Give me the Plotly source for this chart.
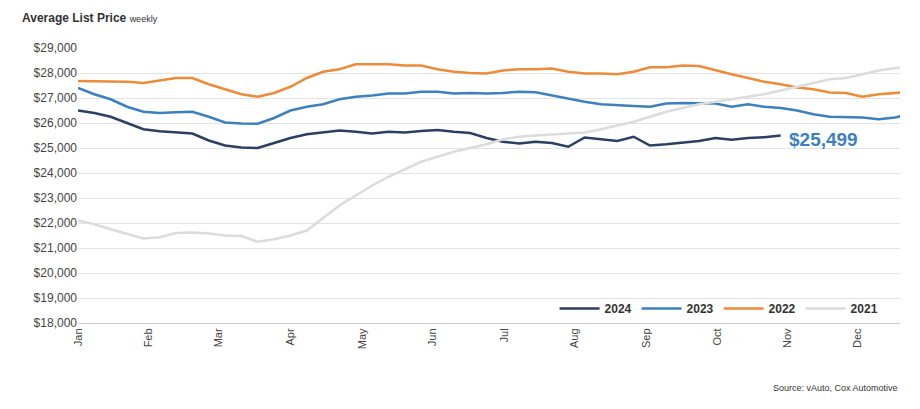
import plotly.graph_objects as go

months = ["Jan", "Feb", "Mar", "Apr", "May", "Jun", "Jul", "Aug", "Sep", "Oct", "Nov", "Dec"]
month_weeks = [0, 4.3, 8.6, 13.0, 17.4, 21.7, 26.1, 30.4, 34.8, 39.1, 43.4, 47.7]

p2024 = [26500, 26400, 26250, 26000, 25750, 25670, 25630, 25580, 25300, 25100, 25020, 25000,
         25200, 25400, 25550, 25620, 25700, 25650, 25580, 25650, 25620, 25680, 25720, 25650,
         25600, 25400, 25250, 25180, 25250, 25200, 25050, 25420, 25350, 25280, 25450, 25100,
         25150, 25200, 25280, 25400, 25330, 25400, 25430, 25499]
p2023 = [27400, 27150, 26950, 26650, 26450, 26400, 26430, 26450, 26250, 26020, 25980, 25970,
         26200, 26500, 26650, 26750, 26950, 27050, 27100, 27180, 27180, 27250, 27250, 27180,
         27200, 27180, 27200, 27250, 27230, 27100, 27000, 26850, 26750, 26700, 26680, 26650,
         26780, 26800, 26780, 26780, 26650, 26750, 26650, 26600, 26500, 26350, 26250, 26220,
         26220, 26150, 26220, 26370]
p2022 = [27680, 27670, 27690, 27650, 27600, 27700, 27800, 27800, 27550, 27350, 27150, 27050,
         27200, 27450, 27800, 28050, 28150, 28350, 28350, 28350, 28300, 28300, 28150, 28050,
         28000, 27980, 28100, 28150, 28150, 28180, 28050, 27980, 27980, 27950, 28050, 28230,
         28230, 28300, 28280, 28100, 27950, 27800, 27650, 27550, 27420, 27350, 27220, 27200,
         27050, 27150, 27200, 27250]
p2021 = [22100, 21950, 21750, 21550, 21380, 21430, 21600, 21620, 21580, 21500, 21480, 21250,
         21350, 21500, 21700, 22200, 22700, 23100, 23500, 23850, 24150, 24450, 24650, 24850,
         25000, 25150, 25350, 25450, 25500, 25550, 25580, 25620, 25750, 25900, 26050, 26250,
         26450, 26600, 26750, 26850, 26950, 27050, 27150, 27300, 27450, 27600, 27750, 27800,
         27950, 28100, 28200, 28250]

series = [("2024", p2024, "#2b3f63"), ("2023", p2023, "#3d80bd"),
          ("2022", p2022, "#ec8b3a"), ("2021", p2021, "#dcdcdc")]

fig = go.Figure()
for name, vals, color in series:
    fig.add_trace(go.Scatter(x=list(range(len(vals))), y=vals, mode="lines", name="<b>" + name + "</b>",
                             line=dict(color=color, width=2.5)))

fig.add_annotation(x=len(p2024) - 1, y=p2024[-1], text="<b>$25,499</b>", showarrow=False,
                   xanchor="left", xshift=6, yshift=-4, font=dict(size=19, color="#3d80bd"))

fig.add_annotation(xref="paper", yref="paper", x=-0.0706, y=1.0, yshift=30, xanchor="left",
                   yanchor="middle",
                   text="<b>Average List Price</b> <span style='font-size:9px'>weekly</span>",
                   showarrow=False, font=dict(size=12, color="#333"))
fig.add_annotation(xref="paper", yref="paper", x=1.0, y=-0.236, xanchor="right",
                   yanchor="middle", text="Source: vAuto, Cox Automotive", showarrow=False,
                   font=dict(size=9, color="#333"))

fig.update_layout(
    width=920, height=409, margin=dict(l=70, r=28, t=40, b=94),
    plot_bgcolor="white", paper_bgcolor="white",
    font=dict(family="Arial, Liberation Sans", color="#444"),
    legend=dict(orientation="h", x=0.98, y=0.0, xanchor="right", yanchor="bottom",
                font=dict(size=12, color="#333"), bgcolor="rgba(0,0,0,0)",
                itemwidth=40, traceorder="normal"),
    xaxis=dict(tickvals=month_weeks, ticktext=months, tickangle=-90, range=[0, 50.3],
               showgrid=False, showline=True, linecolor="#ccc", tickfont=dict(size=11),
               zeroline=False, automargin=False),
    yaxis=dict(range=[18000, 29000], dtick=1000, tickformat="$,.0f", gridcolor="#e3e3e3",
               tickfont=dict(size=12), zeroline=False, automargin=False),
)
fig.write_html("out.html")
